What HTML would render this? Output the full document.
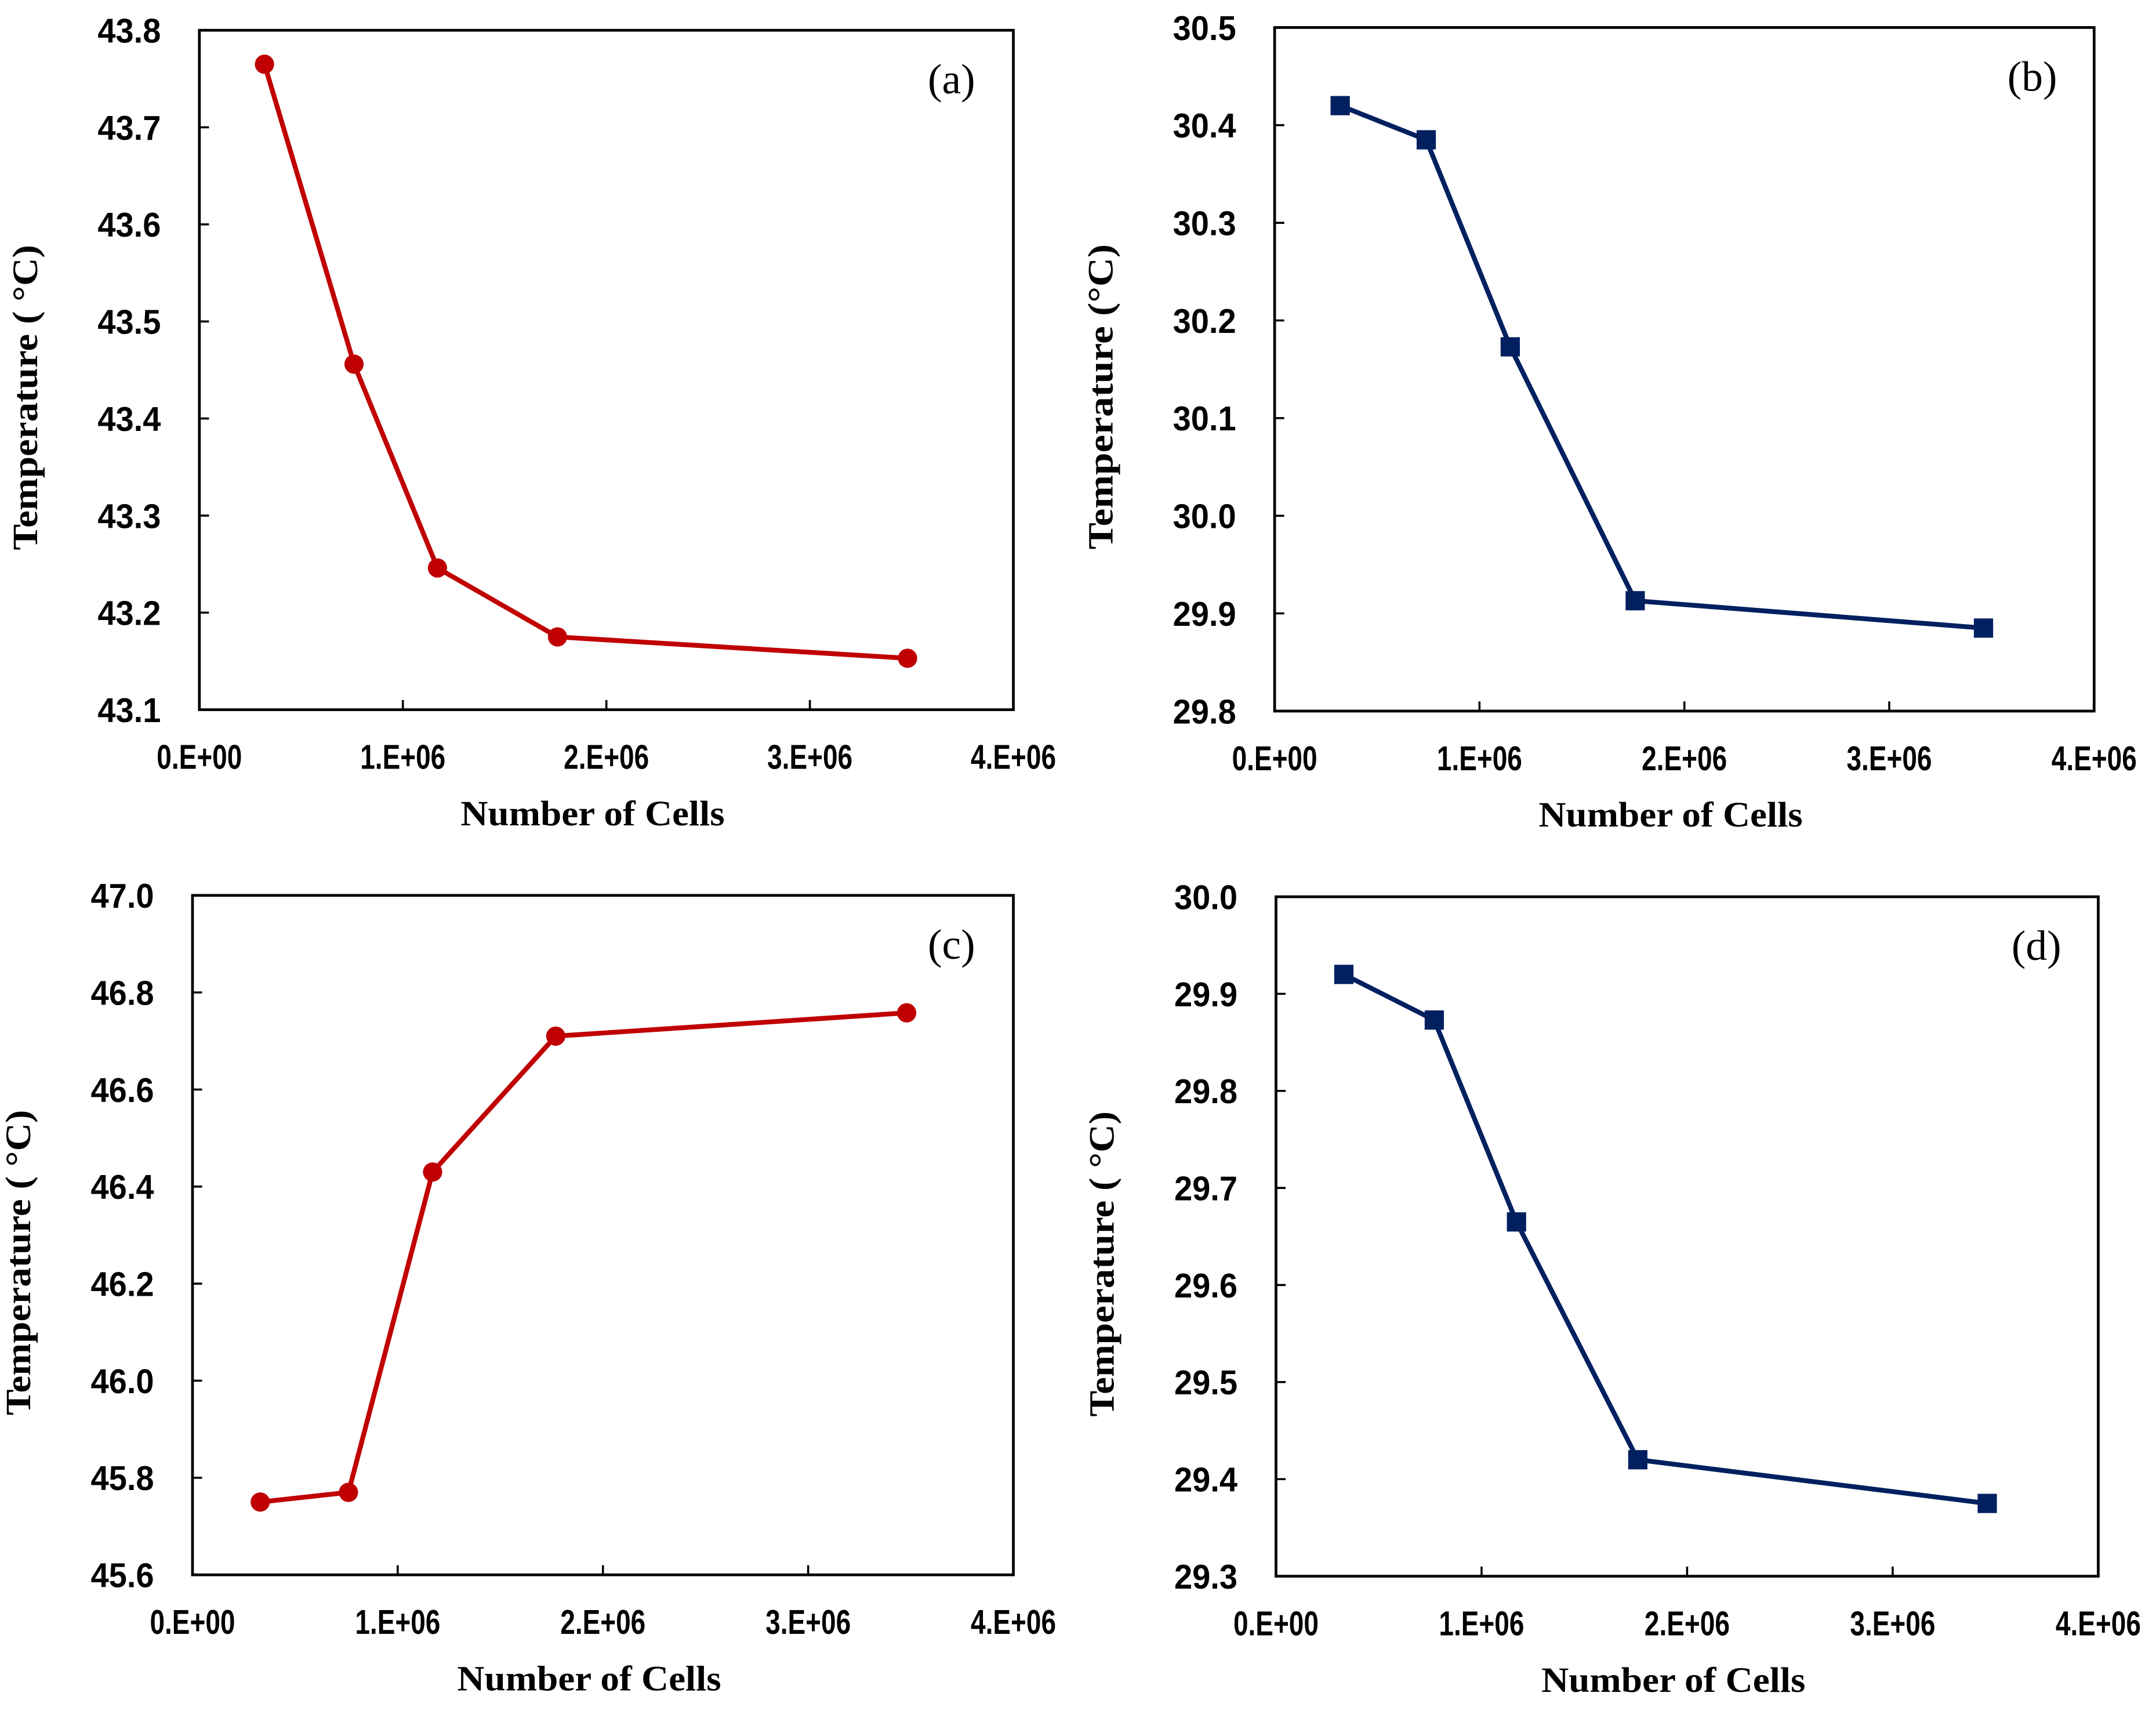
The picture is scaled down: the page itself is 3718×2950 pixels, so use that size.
<!DOCTYPE html>
<html><head><meta charset="utf-8"><style>
html,body{margin:0;padding:0;background:#fff;}
svg{display:block;}
.tk{font-family:"Liberation Sans",sans-serif;font-weight:bold;font-size:25px;fill:#000;}
.ttl{font-family:"Liberation Serif",serif;font-weight:bold;font-size:26px;fill:#000;}
.pl{font-family:"Liberation Serif",serif;font-size:31px;fill:#000;}
</style></head><body>
<svg id="fig" width="3718" height="2950" viewBox="0 0 1568 1244" preserveAspectRatio="none" xmlns="http://www.w3.org/2000/svg"></svg>
<script>
const cellsA=[0.32e6,0.76e6,1.17e6,1.76e6,3.48e6];
const tempA=[43.765,43.456,43.246,43.175,43.153];
const cellsB=[0.32e6,0.74e6,1.15e6,1.76e6,3.46e6];
const tempB=[30.42,30.385,30.173,29.913,29.885];
const cellsC=[0.33e6,0.76e6,1.17e6,1.77e6,3.48e6];
const tempC=[45.75,45.77,46.43,46.71,46.758];
const cellsD=[0.33e6,0.77e6,1.17e6,1.76e6,3.46e6];
const tempD=[29.92,29.873,29.665,29.42,29.375];
const xTicks=[0,1e6,2e6,3e6,4e6];
const xTickLabels=["0.E+00","1.E+06","2.E+06","3.E+06","4.E+06"];
const yTicksA=[43.1,43.2,43.3,43.4,43.5,43.6,43.7,43.8];
const yTicksB=[29.8,29.9,30.0,30.1,30.2,30.3,30.4,30.5];
const yTicksC=[45.6,45.8,46.0,46.2,46.4,46.6,46.8,47.0];
const yTicksD=[29.3,29.4,29.5,29.6,29.7,29.8,29.9,30.0];

const NS="http://www.w3.org/2000/svg";
const svg=document.getElementById('fig');
function mk(tag,attrs,parent){const e=document.createElementNS(NS,tag);for(const k in attrs)e.setAttribute(k,attrs[k]);(parent||svg).appendChild(e);return e;}

function panel(p){
  const g=mk('g',{});
  
  
  const yMin=p.yt[0],yMax=p.yt[p.yt.length-1];
  const sx=v=>p.L+(v-0)/(4e6)*(p.R-p.L);
  const sy=v=>p.B-(v-yMin)/(yMax-yMin)*(p.B-p.T);
  const fr=mk('rect',{x:p.L,y:p.T,width:p.R-p.L,height:p.B-p.T,fill:'none',stroke:'#000','stroke-width':2},g);
  
  
  xTicks.forEach((v,i)=>{
    const x=sx(v);
    if(i>0&&i<xTicks.length-1){const t=mk('line',{x1:x,x2:x,y1:p.B,y2:p.B-7,stroke:'#000','stroke-width':1.5},g);
      
      }
    const tx=mk('text',{x:x,y:p.B+43,'text-anchor':'middle',class:'tk',textLength:62,lengthAdjust:'spacingAndGlyphs'},g);
    tx.textContent=xTickLabels[i];
    
    
  });
  p.yt.forEach((v,i)=>{
    const y=sy(v);
    if(i>0&&i<p.yt.length-1){const t=mk('line',{x1:p.L,x2:p.L+7,y1:y,y2:y,stroke:'#000','stroke-width':1.5},g);
      
      }
    const tx=mk('text',{x:p.L-28,y:y+9,'text-anchor':'end',class:'tk',textLength:46,lengthAdjust:'spacingAndGlyphs'},g);
    tx.textContent=v.toFixed(1);
    
    
  });
  const pts=p.xs.map((v,i)=>sx(v)+','+sy(p.ys[i])).join(' ');
  const ln=mk('polyline',{points:pts,fill:'none',stroke:p.color,'stroke-width':3.5,'stroke-linejoin':'round'},g);
  
  
  p.xs.forEach((v,i)=>{
    let m;
    if(p.marker==='circle') m=mk('circle',{cx:sx(v),cy:sy(p.ys[i]),r:7,fill:p.color},g);
    else m=mk('rect',{x:sx(v)-7,y:sy(p.ys[i])-7,width:14,height:14,fill:p.color},g);
    
    
  });
  const xt=mk('text',{x:(p.L+p.R)/2-10,y:p.B+84,'text-anchor':'middle',class:'ttl',textLength:192,lengthAdjust:'spacingAndGlyphs'},g);
  xt.textContent='Number of Cells';
  
  
  const cy=(p.T+p.B)/2+20;
  const yt=mk('text',{x:0,y:0,'text-anchor':'middle',class:'ttl',transform:'translate('+(p.L-118)+','+cy+') rotate(-90)',textLength:222,lengthAdjust:'spacingAndGlyphs'},g);
  yt.textContent=p.ytitle;
  
  
  const lb=mk('text',{x:p.R-45,y:p.T+46,'text-anchor':'middle',class:'pl'},g);
  lb.textContent='('+p.id+')';
  
  
}
panel({id:'a',L:145,R:737,T:22,B:516,xs:cellsA,ys:tempA,yt:yTicksA,color:'#c00000',marker:'circle',ytitle:'Temperature (  °C)'});
panel({id:'b',L:927,R:1523,T:20,B:517,xs:cellsB,ys:tempB,yt:yTicksB,color:'#002060',marker:'square',ytitle:'Temperature (°C)'});
panel({id:'c',L:140,R:737,T:651,B:1145,xs:cellsC,ys:tempC,yt:yTicksC,color:'#c00000',marker:'circle',ytitle:'Temperature (  °C)'});
panel({id:'d',L:928,R:1526,T:652,B:1146,xs:cellsD,ys:tempD,yt:yTicksD,color:'#002060',marker:'square',ytitle:'Temperature (  °C)'});
</script>
</body></html>
